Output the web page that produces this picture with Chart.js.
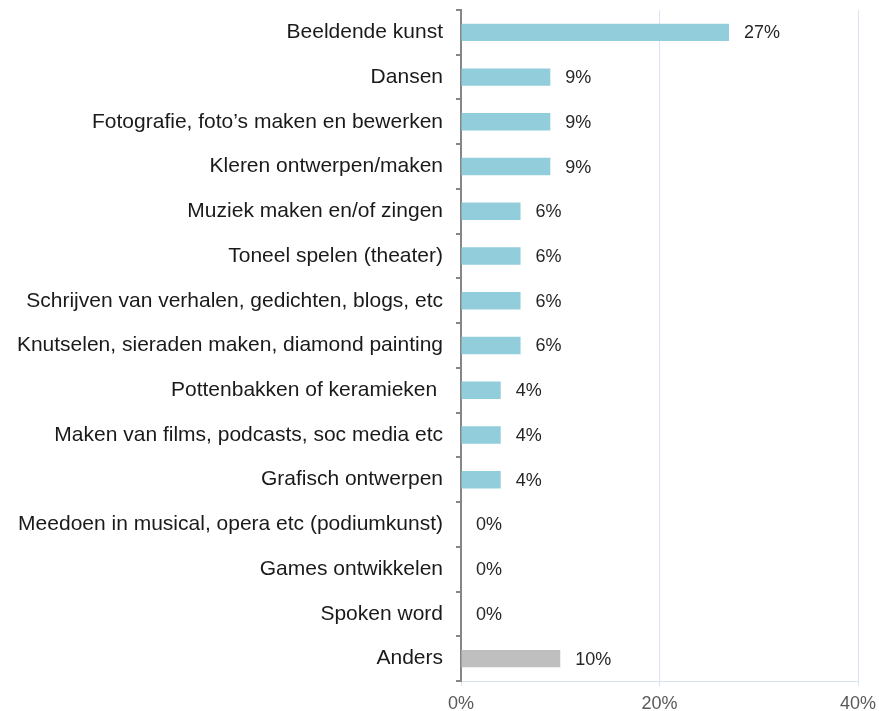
<!DOCTYPE html>
<html>
<head>
<meta charset="utf-8">
<script src="https://cdn.jsdelivr.net/npm/chart.js@4"></script>
<style>
  html, body { margin: 0; padding: 0; background: #fff; }
  #wrap { width: 879px; height: 711px; }
</style>
</head>
<body>
<div id="wrap"><canvas id="chart" width="879" height="711"></canvas></div>
<script>
const categories = [
    'Beeldende kunst',
    'Dansen',
    'Fotografie, foto\u2019s maken en bewerken',
    'Kleren ontwerpen/maken',
    'Muziek maken en/of zingen',
    'Toneel spelen (theater)',
    'Schrijven van verhalen, gedichten, blogs, etc',
    'Knutselen, sieraden maken, diamond painting',
    'Pottenbakken of keramieken ',
    'Maken van films, podcasts, soc media etc',
    'Grafisch ontwerpen',
    'Meedoen in musical, opera etc (podiumkunst)',
    'Games ontwikkelen',
    'Spoken word',
    'Anders',
];
const percentages = [27, 9, 9, 9, 6, 6, 6, 6, 4, 4, 4, 0, 0, 0, 10];
const xTicks = [0, 20, 40];

const FONT = 'Liberation Sans, Arial, sans-serif';
const BLUE = '#92cddc';
const GREY = '#bfbfbf';

// value labels next to each bar
const barLabels = {
    id: 'barLabels',
    afterDatasetsDraw(chart) {
        const ctx = chart.ctx;
        const meta = chart.getDatasetMeta(0);
        ctx.save();
        ctx.font = '18px ' + FONT;
        ctx.fillStyle = '#262626';
        ctx.textAlign = 'left';
        ctx.textBaseline = 'middle';
        meta.data.forEach((bar, i) => {
            ctx.fillText(percentages[i] + '%', bar.x + 15, bar.y + 1);
        });
        ctx.restore();
    },
};

new Chart(document.getElementById('chart'), {
    type: 'bar',
    data: {
        labels: categories,
        datasets: [{
            data: percentages,
            backgroundColor: c => categories[c.dataIndex] === 'Anders' ? GREY : BLUE,
            borderWidth: 0,
            barPercentage: 0.39,
            categoryPercentage: 1,
        }],
    },
    options: {
        indexAxis: 'y',
        responsive: false,
        animation: false,
        layout: { padding: { top: 10, right: 21, left: 0, bottom: 0 } },
        plugins: {
            legend: { display: false },
            tooltip: { enabled: false },
        },
        scales: {
            x: {
                min: 0,
                max: 40,
                afterBuildTicks: s => { s.ticks = xTicks.map(v => ({ value: v })); },
                afterFit: s => {
                    s.height = 30;
                    s.paddingLeft = 0;
                    s.paddingRight = 0;
                },
                grid: { color: '#d9e3f2', lineWidth: 1, tickLength: 5 },
                border: { color: '#d9e3f2', width: 1 },
                ticks: {
                    padding: 7,
                    color: '#595959',
                    font: { family: FONT, size: 18 },
                    callback: v => v + '%',
                    maxRotation: 0,
                },
            },
            y: {
                afterFit: s => {
                    s.width = 461;
                    s.paddingTop = 0;
                    s.paddingBottom = 0;
                },
                grid: {
                    drawOnChartArea: false,
                    offset: true,
                    tickLength: 5,
                    color: '#868686',
                    lineWidth: 2,
                },
                border: { color: '#868686', width: 2 },
                ticks: {
                    padding: 13,
                    color: '#1a1a1a',
                    font: { family: FONT, size: 21 },
                    autoSkip: false,
                },
            },
        },
    },
    plugins: [barLabels],
});
</script>
</body>
</html>
